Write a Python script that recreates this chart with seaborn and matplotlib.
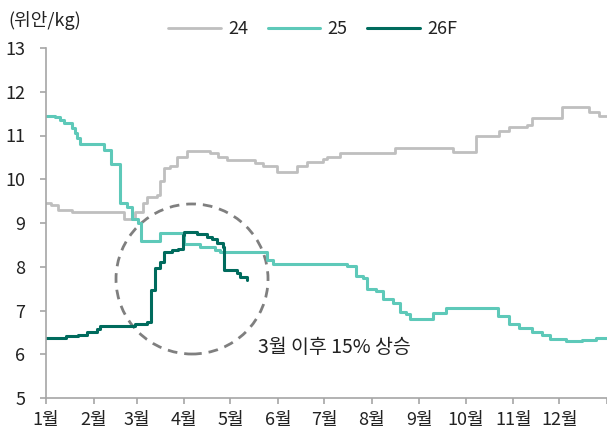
import matplotlib
matplotlib.use("Agg")
import matplotlib.pyplot as plt
from matplotlib.patches import Ellipse
import seaborn as sns

# ---- data (day of year, price in 위안/kg) ----
days_24 = [0, 3, 8, 17, 51, 58, 63, 66, 72, 74, 77, 81, 85, 92, 107, 112, 118, 136,
           141, 150, 163, 170, 180, 183, 191, 227, 265, 280, 295, 301, 313, 316, 336,
           353, 360, 365]
vals_24 = [9.45, 9.41, 9.30, 9.25, 9.09, 9.25, 9.45, 9.60, 9.65, 9.96, 10.26, 10.30,
           10.50, 10.64, 10.60, 10.52, 10.44, 10.37, 10.30, 10.17, 10.30, 10.40, 10.46,
           10.52, 10.60, 10.71, 10.63, 11.00, 11.10, 11.19, 11.25, 11.40, 11.65, 11.54,
           11.45, 11.45]

days_25 = [0, 6, 9, 12, 17, 19, 20, 22, 38, 42, 48, 53, 56, 60, 62, 74, 90, 100, 110,
           113, 144, 148, 196, 202, 206, 209, 215, 219, 226, 230, 234, 237, 252, 260,
           294, 301, 308, 316, 323, 328, 338, 349, 358, 365]
vals_25 = [11.45, 11.42, 11.35, 11.29, 11.17, 11.05, 10.94, 10.80, 10.68, 10.35, 9.45,
           9.37, 9.10, 9.00, 8.60, 8.77, 8.52, 8.45, 8.38, 8.33, 8.15, 8.06, 8.02, 7.80,
           7.75, 7.50, 7.45, 7.26, 7.17, 6.97, 6.92, 6.80, 6.94, 7.05, 6.87, 6.70, 6.60,
           6.50, 6.44, 6.35, 6.30, 6.33, 6.37, 6.37]

days_26 = [0, 13, 21, 27, 33, 35, 58, 66, 68, 71, 74, 77, 82, 86, 89, 90, 98, 105, 108,
           111, 115, 116, 124, 126, 131]
vals_26 = [6.38, 6.42, 6.44, 6.51, 6.57, 6.65, 6.70, 6.73, 7.47, 7.97, 8.10, 8.33, 8.38,
           8.40, 8.72, 8.80, 8.75, 8.68, 8.63, 8.54, 8.45, 7.93, 7.85, 7.77, 7.70]

series_labels = ["24", "25", "26F"]
month_ticks = [0, 31, 59, 90, 120, 151, 181, 212, 243, 273, 304, 334, 365]
month_labels = ["1월", "2월", "3월", "4월", "5월", "6월", "7월", "8월", "9월", "10월",
                "11월", "12월", ""]
y_ticks = [5, 6, 7, 8, 9, 10, 11, 12, 13]
unit_label = "(위안/kg)"
note_text = "3월 이후 15% 상승"

# ---- style ----
sns.set_theme(style="white")
plt.rcParams["font.family"] = ["Noto Sans CJK KR", "DejaVu Sans"]

C24 = "#bfbfbf"
C25 = "#5ec9b9"
C26 = "#006b5d"
AXC = "#a6a6a6"

fig = plt.figure(figsize=(6.07, 4.32), dpi=100)
ax = fig.add_axes([46 / 607, 34 / 432, 1 - 46 / 607, (398 - 48) / 432])

sns.lineplot(x=days_24, y=vals_24, ax=ax, color=C24, lw=2.0, drawstyle="steps-post",
             label=series_labels[0])
sns.lineplot(x=days_25, y=vals_25, ax=ax, color=C25, lw=2.2, drawstyle="steps-post",
             label=series_labels[1])
sns.lineplot(x=days_26, y=vals_26, ax=ax, color=C26, lw=2.2, drawstyle="steps-post",
             label=series_labels[2])

ax.set_xlim(0, 365)
ax.set_ylim(5, 13)
ax.set_xticks(month_ticks)
ax.set_xticklabels(month_labels)
ax.set_yticks(y_ticks)
ax.set_xlabel("")
ax.set_ylabel("")

for s in ["top", "right"]:
    ax.spines[s].set_visible(False)
for s in ["left", "bottom"]:
    ax.spines[s].set_color(AXC)
    ax.spines[s].set_linewidth(1.2)
ax.tick_params(axis="both", which="major", length=4, width=1.2, color=AXC,
               labelsize=13, labelcolor="#222222")
ax.tick_params(axis="y", pad=11, left=True)
ax.tick_params(axis="x", pad=5, bottom=True)

# dashed highlight circle
ell = Ellipse((95, 7.72), width=98.9, height=3.43, fill=False, ls=(0, (3.5, 2.5)),
              lw=2.0, edgecolor="#7f7f7f", zorder=1)
ax.add_patch(ell)
ax.text(138, 6.15, note_text, ha="left", va="center", fontsize=14, color="#222222")

fig.text(8 / 607, 1 - 20 / 432, unit_label, ha="left", va="center", fontsize=13,
         color="#222222")

ax.get_legend().remove()
handles, labels = ax.get_legend_handles_labels()
fig.legend(handles, labels, loc="center", bbox_to_anchor=(0.515, 1 - 29 / 432), ncol=3,
           frameon=False, fontsize=13, handlelength=2.9, handletextpad=0.4,
           columnspacing=1.1, labelcolor="#222222")

fig.savefig("out.png", dpi=100)
